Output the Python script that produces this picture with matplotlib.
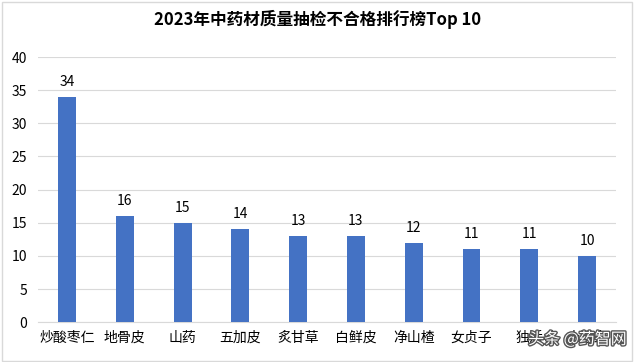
import matplotlib
matplotlib.use("Agg")
import matplotlib.pyplot as plt
import matplotlib.patheffects as pe
import numpy as np

plt.rcParams['font.family'] = ['Noto Sans CJK SC', 'DejaVu Sans']

# data
herbs = ["炒酸枣仁", "地骨皮", "山药", "五加皮", "炙甘草", "白鲜皮", "净山楂", "女贞子", "独活", "土鳖虫"]
counts = [34, 16, 15, 14, 13, 13, 12, 11, 11, 10]
title = "2023年中药材质量抽检不合格排行榜Top 10"

fig = plt.figure(figsize=(6.35, 3.62), dpi=100)
ax = fig.add_axes([0.06, 0.11, 0.91, 0.7325])

x = np.arange(len(herbs))
ax.bar(x, counts, width=0.31, color="#4472C4", zorder=3)

# value labels above bars
for xi, v in zip(x, counts):
    ax.text(xi, v + 1.2, str(v), ha="center", va="bottom", fontsize=10, color="#000000")

ax.set_xlim(-0.5, len(herbs) - 0.5)
ax.set_ylim(0, 40)
ax.set_yticks(np.arange(0, 41, 5))
ax.set_xticks(x)
ax.set_xticklabels(herbs, fontsize=10)
ax.tick_params(axis="y", labelsize=10, length=0, pad=8)
ax.tick_params(axis="x", length=0, pad=6)
ax.grid(axis="y", color="#D9D9D9", linewidth=0.8, zorder=0)
for side in ["top", "right", "left"]:
    ax.spines[side].set_visible(False)
ax.spines["bottom"].set_color("#D9D9D9")

fig.text(0.5, 0.945, title, ha="center", va="center", fontsize=12, fontweight="bold")

# chart border
fig.patches.append(plt.Rectangle((0.003, 0.004), 0.993, 0.99, transform=fig.transFigure,
                                 fill=False, edgecolor="#D9D9D9", linewidth=1))

# watermark
fig.text(0.987, 0.062, "头条 @药智网", ha="right", va="center", fontsize=11.5, color="white",
         path_effects=[pe.withStroke(linewidth=2, foreground="#555555")])

fig.savefig("out.png", dpi=100)
